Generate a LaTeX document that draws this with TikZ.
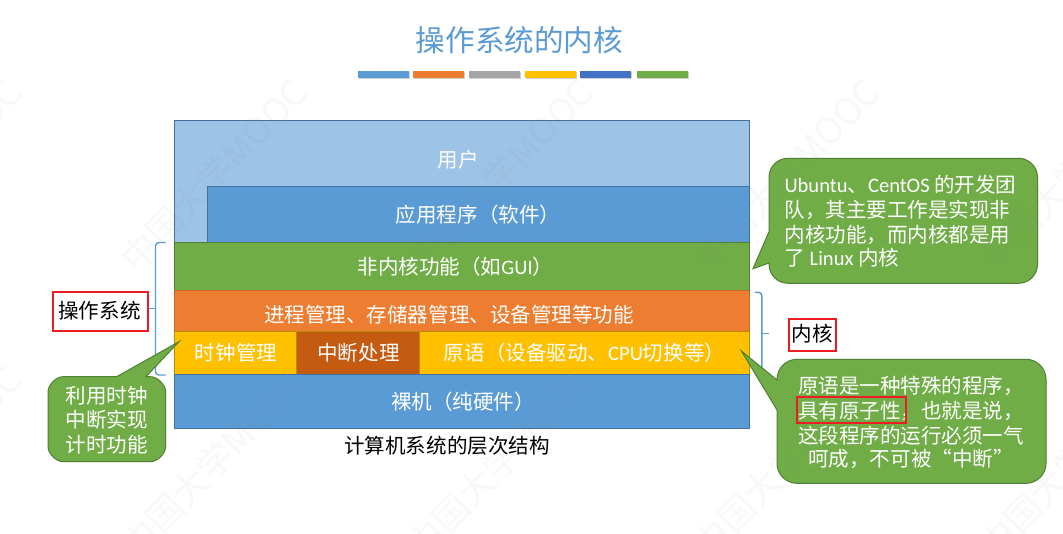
\documentclass[tikz,border=0pt]{standalone}
\usepackage{fontspec}
\setmainfont{Noto Sans CJK SC}
\newfontfamily\lat{Carlito}
\tikzset{
  x=0.75pt, y=-0.75pt,
  lab/.style={inner sep=0pt, font=\fontsize{15.4pt}{18pt}\selectfont, text=white, anchor=center},
  blk/.style={lab, text=black},
  layer/.style={line width=0.75pt},
  brace/.style={draw=BraceBlue, line width=1.1pt, rounded corners=2.5pt},
  callout/.style={fill=CGreen, draw=CGreenD, line width=0.75pt},
  redbox/.style={draw=RedBox, line width=1.5pt},
  mark text/.style={inner sep=0pt, font=\fontsize{27pt}{27pt}\selectfont, text=gray, opacity=0.05, rotate=46, anchor=center}
}
\definecolor{BraceBlue}{HTML}{5B9BD5}
\definecolor{CBlue}{HTML}{5B9BD5}
\definecolor{CBlueL}{HTML}{9DC3E6}
\definecolor{CBlueD}{HTML}{41719C}
\definecolor{CGreen}{HTML}{70AD47}
\definecolor{CGreenD}{HTML}{507E32}
\definecolor{COrange}{HTML}{ED7D31}
\definecolor{COrangeD}{HTML}{AE5A21}
\definecolor{CYellow}{HTML}{FFC000}
\definecolor{CYellowD}{HTML}{BC8C00}
\definecolor{CBrown}{HTML}{C55A11}
\definecolor{CGray}{HTML}{A5A5A5}
\definecolor{CIndigo}{HTML}{4472C4}
\definecolor{RedBox}{HTML}{ED1C24}
\begin{document}
\begin{tikzpicture}
\useasboundingbox (0,0) rectangle (1063,534);
\fill[white] (0,0) rectangle (1063,534);

% title
\node[lab, text=CBlue, font=\fontsize{22.2pt}{26pt}\selectfont] (title) at (519.5,40.5) {操作系统的内核};
\foreach \a/\b/\c in {358/409/CBlue,413/464/COrange,469/520/CGray,525/576/CYellow,580/631/CIndigo,637/688/CGreen}{
  \fill[black!18] (\a+1,72) rectangle (\b+1,79);
  \fill[\c] (\a,71) rectangle (\b,78);
}

% layers
\draw[layer, fill=CBlueL, draw=CBlueD] (174.5,120.5) rectangle (749.5,242.3);
\draw[layer, fill=CBlue, draw=CBlueD] (207,186.3) rectangle (749.5,242.3);
\draw[layer, fill=CGreen, draw=CGreenD] (174.5,242.3) rectangle (749.5,290.8);
\draw[layer, fill=COrange, draw=COrangeD!60!COrange] (174.5,290.8) rectangle (749.5,331.3);
\draw[layer, fill=CYellow, draw=CYellowD] (174.5,331.3) rectangle (296.5,374.5);
\draw[layer, fill=CBrown, draw=CYellowD] (296.5,331.3) rectangle (419.2,374.5);
\draw[layer, fill=CYellow, draw=CYellowD] (419.2,331.3) rectangle (749.5,374.5);
\draw[layer, fill=CBlue, draw=CBlueD] (174.5,374.5) rectangle (749.5,428.3);

\node[lab] (user) at (458,159.5) {用户};
\node[lab] (app) at (478,215) {应用程序（软件）};
\node[lab] (nonkernel) at (455.5,267) {非内核功能（如{\lat GUI}）};
\node[lab] (mgmt) at (449,314.5) {进程管理、存储器管理、设备管理等功能};
\node[lab] (clock) at (236,353) {时钟管理};
\node[lab] (intr) at (358.5,353) {中断处理};
\node[lab] (prim) at (584.5,353) {原语（设备驱动、{\lat CPU}切换等）};
\node[lab] (bare) at (463,401.5) {裸机（纯硬件）};
\node[blk] (caption) at (447,445.5) {计算机系统的层次结构};

% braces
\draw[brace] (165.7,242.5) -- (155.5,242.5) -- (155.5,375) -- (165.7,375);
\draw[brace, rounded corners=0pt] (146,308.5) -- (155.5,308.5);
\draw[brace] (755,292.3) -- (761.8,292.3) -- (761.8,375) -- (755,375);
\draw[brace, rounded corners=0pt] (761.8,333.5) -- (769,333.5);

% label boxes
\draw[redbox, fill=white] (53.4,292.3) rectangle (147.7,331.3);
\node[blk] (os) at (99.5,311) {操作系统};
\draw[redbox, fill=white] (789.4,319.3) rectangle (835.6,350.7);
\node[blk] (kernel) at (812.5,334) {内核};

% callouts
\draw[callout] (116.6,376.7) -- (179,341.7) -- (146,376.7) -- (150.6,376.7)
  .. controls (157.4,376.7) and (165.6,384.9) .. (165.6,391.7) -- (165.6,446.7)
  .. controls (165.6,453.5) and (157.4,461.7) .. (150.6,461.7) -- (63,461.7)
  .. controls (56.2,461.7) and (48,453.5) .. (48,446.7) -- (48,391.7)
  .. controls (48,384.9) and (56.2,376.7) .. (63,376.7) -- cycle;
\node[lab, align=center, font=\fontsize{15.4pt}{18.2pt}\selectfont] (cleft) at (106.8,420) {利用时钟\\中断实现\\计时功能};

\draw[callout] (769,231.7) -- (753,268.7) -- (769,263) -- (769,264.3)
  .. controls (769,274.8) and (777.5,283.3) .. (788,283.3) -- (1018.5,283.3)
  .. controls (1029,283.3) and (1037.5,274.8) .. (1037.5,264.3) -- (1037.5,177.3)
  .. controls (1037.5,166.8) and (1029,158.3) .. (1018.5,158.3) -- (788,158.3)
  .. controls (777.5,158.3) and (769,166.8) .. (769,177.3) -- cycle;
\node[lab, align=left, font=\fontsize{15.4pt}{18.8pt}\selectfont] (cright) at (900.5,221.5) {{\lat Ubuntu}、{\lat CentOS} 的开发团\\队，其主要工作是实现非\\内核功能，而内核都是用\\[-1.6pt]了 {\lat Linux} 内核};

\draw[callout] (777,380) -- (741.4,351) -- (777,410) -- (777,463.3)
  .. controls (777,474.3) and (786,483.3) .. (797,483.3) -- (1026,483.3)
  .. controls (1037,483.3) and (1046,474.3) .. (1046,463.3) -- (1046,379.3)
  .. controls (1046,368.3) and (1037,359.3) .. (1026,359.3) -- (797,359.3)
  .. controls (786,359.3) and (777,368.3) .. (777,379.3) -- cycle;
\node[lab, align=center, font=\fontsize{15.4pt}{18.6pt}\selectfont] (cprim) at (911,422.5) {原语是一种特殊的程序，\\具有原子性，也就是说，\\这段程序的运行必须一气\\[-1pt]呵成，不可被“中断”};
\draw[redbox] (796.5,397.3) rectangle (905.6,423.3);

% watermark
\begin{scope}
\clip (0,0) rectangle (1063,534);
\foreach \cx in {-72,214,500,786,1072}{
  \foreach \cy in {175,462}{
    \node[mark text] at (\cx,\cy) {中国大学MOOC};
  }
}
\end{scope}
\end{tikzpicture}
\end{document}
